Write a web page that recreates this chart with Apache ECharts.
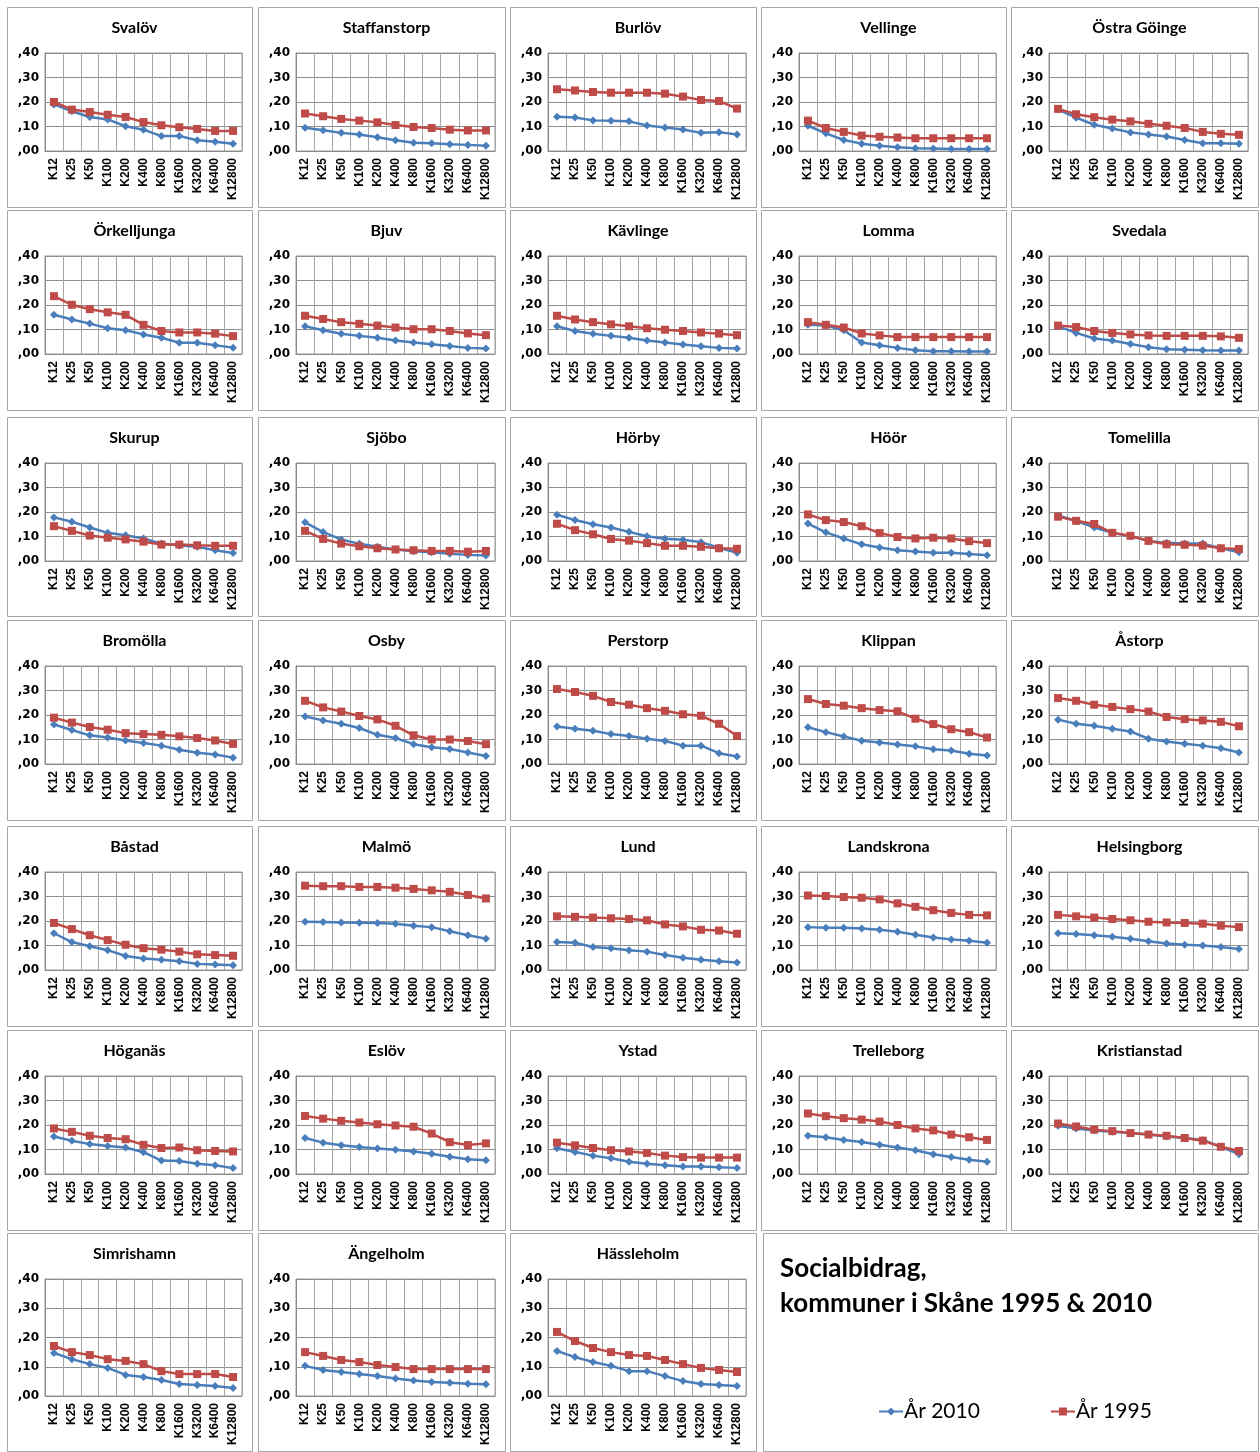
<!DOCTYPE html>
<html>
<head>
<meta charset="utf-8">
<script src="https://cdn.jsdelivr.net/npm/echarts@6/dist/echarts.min.js"></script>
<style>
html,body{margin:0;padding:0;background:#fff;}
#c{width:1260px;height:1452px;}
</style>
</head>
<body>
<div id="c"></div>
<script>
const categories = ['K12','K25','K50','K100','K200','K400','K800','K1600','K3200','K6400','K12800'];
const yTicks = [0, 0.1, 0.2, 0.3, 0.4];
const names = ['Svalöv','Staffanstorp','Burlöv','Vellinge','Östra Göinge',
  'Örkelljunga','Bjuv','Kävlinge','Lomma','Svedala',
  'Skurup','Sjöbo','Hörby','Höör','Tomelilla',
  'Bromölla','Osby','Perstorp','Klippan','Åstorp',
  'Båstad','Malmö','Lund','Landskrona','Helsingborg',
  'Höganäs','Eslöv','Ystad','Trelleborg','Kristianstad',
  'Simrishamn','Ängelholm','Hässleholm'];
const seriesNames = ['År 2010','År 1995'];
const v2010 = [
  [0.190,0.162,0.139,0.129,0.101,0.087,0.061,0.061,0.044,0.038,0.030],
  [0.095,0.085,0.074,0.067,0.056,0.044,0.034,0.032,0.028,0.025,0.021],
  [0.140,0.137,0.125,0.123,0.121,0.104,0.096,0.088,0.074,0.077,0.067],
  [0.103,0.072,0.045,0.030,0.021,0.015,0.011,0.010,0.008,0.008,0.008],
  [0.169,0.136,0.107,0.092,0.076,0.067,0.059,0.045,0.032,0.032,0.030],
  [0.160,0.141,0.124,0.105,0.097,0.080,0.066,0.046,0.046,0.036,0.026],
  [0.113,0.097,0.083,0.074,0.066,0.055,0.047,0.040,0.033,0.025,0.022],
  [0.113,0.094,0.083,0.074,0.066,0.055,0.047,0.039,0.032,0.025,0.022],
  [0.119,0.116,0.097,0.047,0.036,0.025,0.015,0.011,0.011,0.010,0.010],
  [0.113,0.086,0.063,0.055,0.041,0.028,0.019,0.017,0.015,0.014,0.014],
  [0.178,0.160,0.137,0.115,0.105,0.092,0.071,0.063,0.058,0.044,0.033],
  [0.158,0.118,0.088,0.070,0.058,0.047,0.040,0.036,0.030,0.025,0.022],
  [0.189,0.167,0.150,0.137,0.119,0.101,0.091,0.087,0.077,0.054,0.034],
  [0.153,0.117,0.092,0.068,0.055,0.044,0.039,0.034,0.034,0.029,0.023],
  [0.186,0.163,0.137,0.115,0.101,0.082,0.074,0.071,0.071,0.052,0.036],
  [0.161,0.139,0.117,0.108,0.096,0.086,0.075,0.058,0.046,0.039,0.026],
  [0.194,0.178,0.164,0.147,0.119,0.106,0.081,0.068,0.061,0.047,0.033],
  [0.153,0.144,0.136,0.122,0.114,0.103,0.094,0.075,0.075,0.044,0.031],
  [0.150,0.130,0.112,0.095,0.088,0.080,0.072,0.060,0.055,0.042,0.035],
  [0.181,0.164,0.156,0.144,0.133,0.103,0.092,0.083,0.075,0.064,0.047],
  [0.150,0.114,0.097,0.081,0.057,0.047,0.042,0.036,0.025,0.022,0.019],
  [0.197,0.196,0.194,0.193,0.192,0.189,0.181,0.175,0.158,0.142,0.128],
  [0.114,0.111,0.094,0.089,0.081,0.075,0.061,0.050,0.042,0.036,0.031],
  [0.175,0.172,0.172,0.169,0.164,0.156,0.144,0.133,0.125,0.119,0.111],
  [0.150,0.147,0.142,0.136,0.128,0.117,0.108,0.103,0.100,0.094,0.086],
  [0.153,0.136,0.122,0.114,0.108,0.089,0.055,0.053,0.042,0.036,0.024],
  [0.147,0.128,0.117,0.110,0.104,0.099,0.092,0.083,0.070,0.060,0.056],
  [0.105,0.090,0.075,0.064,0.050,0.042,0.036,0.031,0.031,0.028,0.025],
  [0.156,0.150,0.139,0.131,0.119,0.108,0.097,0.081,0.069,0.058,0.050],
  [0.197,0.186,0.178,0.172,0.167,0.161,0.153,0.147,0.139,0.111,0.081],
  [0.147,0.126,0.109,0.096,0.072,0.065,0.055,0.041,0.038,0.034,0.027],
  [0.103,0.089,0.082,0.075,0.068,0.060,0.053,0.048,0.045,0.042,0.040],
  [0.154,0.133,0.116,0.103,0.085,0.085,0.068,0.051,0.041,0.038,0.034]
];
const v1995 = [
  [0.200,0.169,0.159,0.148,0.139,0.118,0.105,0.097,0.090,0.082,0.082],
  [0.153,0.142,0.131,0.124,0.117,0.106,0.098,0.094,0.087,0.084,0.084],
  [0.252,0.247,0.241,0.238,0.238,0.238,0.234,0.222,0.208,0.204,0.173],
  [0.124,0.094,0.078,0.063,0.058,0.055,0.052,0.052,0.052,0.052,0.052],
  [0.172,0.150,0.138,0.128,0.121,0.111,0.103,0.094,0.078,0.070,0.066],
  [0.236,0.201,0.183,0.170,0.160,0.119,0.094,0.088,0.088,0.083,0.073],
  [0.156,0.143,0.130,0.123,0.116,0.108,0.101,0.101,0.094,0.084,0.077],
  [0.156,0.141,0.130,0.121,0.113,0.105,0.099,0.094,0.088,0.083,0.077],
  [0.130,0.119,0.108,0.084,0.076,0.069,0.069,0.069,0.069,0.069,0.069],
  [0.116,0.110,0.094,0.086,0.080,0.076,0.074,0.074,0.074,0.072,0.066],
  [0.142,0.123,0.104,0.095,0.088,0.079,0.067,0.067,0.064,0.062,0.062],
  [0.123,0.090,0.071,0.060,0.052,0.047,0.044,0.041,0.041,0.038,0.041],
  [0.152,0.126,0.109,0.090,0.083,0.073,0.062,0.062,0.058,0.052,0.050],
  [0.190,0.167,0.159,0.142,0.114,0.098,0.092,0.095,0.092,0.081,0.073],
  [0.181,0.164,0.151,0.115,0.103,0.082,0.068,0.066,0.063,0.052,0.049],
  [0.189,0.169,0.151,0.140,0.126,0.122,0.119,0.113,0.106,0.096,0.082],
  [0.258,0.231,0.214,0.196,0.182,0.156,0.117,0.100,0.100,0.094,0.081],
  [0.306,0.294,0.278,0.253,0.242,0.228,0.217,0.203,0.197,0.164,0.114],
  [0.265,0.245,0.238,0.228,0.220,0.215,0.185,0.163,0.142,0.130,0.108],
  [0.269,0.258,0.242,0.233,0.224,0.214,0.192,0.183,0.178,0.172,0.154],
  [0.192,0.167,0.142,0.122,0.103,0.089,0.083,0.075,0.064,0.061,0.058],
  [0.344,0.342,0.342,0.339,0.339,0.336,0.331,0.325,0.319,0.306,0.292],
  [0.219,0.217,0.214,0.211,0.208,0.203,0.186,0.178,0.164,0.161,0.148],
  [0.304,0.302,0.298,0.295,0.288,0.272,0.258,0.244,0.233,0.225,0.223],
  [0.225,0.219,0.214,0.208,0.203,0.197,0.194,0.192,0.189,0.181,0.175],
  [0.186,0.172,0.156,0.147,0.142,0.119,0.106,0.108,0.097,0.094,0.092],
  [0.237,0.226,0.217,0.210,0.203,0.198,0.193,0.165,0.130,0.118,0.125],
  [0.128,0.117,0.106,0.097,0.092,0.086,0.075,0.069,0.067,0.067,0.067],
  [0.247,0.236,0.228,0.222,0.214,0.200,0.186,0.178,0.161,0.150,0.139],
  [0.206,0.194,0.181,0.175,0.167,0.161,0.156,0.147,0.136,0.111,0.094],
  [0.171,0.150,0.140,0.126,0.120,0.109,0.085,0.075,0.075,0.075,0.065],
  [0.150,0.137,0.123,0.116,0.106,0.099,0.092,0.092,0.092,0.092,0.092],
  [0.219,0.188,0.164,0.150,0.140,0.137,0.123,0.109,0.096,0.089,0.082]
];

// layout (pixels)
const cols = [[7,252],[258,505],[510,756],[761,1006],[1011,1258]];
const rows = [[7,207],[210,410],[417,616],[620,820],[826,1026],[1030,1230],[1233,1451]];

const chart = echarts.init(document.getElementById('c'), null, {renderer:'canvas'});
const grids = [], xAxes = [], yAxes = [], series = [], titles = [], graphics = [];
const blue = '#4a7ebb', red = '#be4b48';

names.forEach((name, i) => {
  const r = Math.floor(i / 5), c = i % 5;
  const [x0, x1] = cols[c], [y0, y1] = rows[r];
  const h = r === 6 ? 117 : 98;
  graphics.push({type:'rect', shape:{x:x0+0.5, y:y0+0.5, width:x1-x0, height:y1-y0},
    style:{fill:'none', stroke:'#a6a6a6', lineWidth:1}, silent:true, z:-1});
  titles.push({text:name, left:(x0+x1)/2, top:y0+8, textAlign:'center',
    textStyle:{fontFamily:'Lato', fontWeight:'bold', fontSize:16, color:'#000'}});
  grids.push({left:x0+38, top:y0+46, width:(x1-x0)-48, height:h, show:true,
    borderColor:'#9a9a9a', borderWidth:1, backgroundColor:'#fff'});
  xAxes.push({type:'category', gridIndex:i, data:categories, boundaryGap:true,
    axisLine:{show:true, lineStyle:{color:'#8a8a8a'}}, axisTick:{show:false},
    splitLine:{show:true, interval:0, lineStyle:{color:'#a6a6a6', width:1}},
    axisLabel:{interval:0, rotate:90, margin:7, fontFamily:'Liberation Sans', fontWeight:'bold', fontSize:12, color:'#000'}});
  yAxes.push({type:'value', gridIndex:i, min:yTicks[0], max:yTicks[yTicks.length-1], interval:0.1,
    axisLine:{show:true, lineStyle:{color:'#8a8a8a'}}, axisTick:{show:false},
    splitLine:{show:true, lineStyle:{color:'#8f8f8f', width:1}},
    axisLabel:{margin:6, fontFamily:'DejaVu Sans', fontWeight:'bold', fontSize:12, color:'#000',
      formatter: v => ',' + String(Math.round(v*100)).padStart(2,'0')}});
  series.push({name:seriesNames[0], type:'line', xAxisIndex:i, yAxisIndex:i, data:v2010[i],
    symbol:'diamond', symbolSize:8, itemStyle:{color:blue}, lineStyle:{color:blue, width:2.5}, animation:false, z:2});
  series.push({name:seriesNames[1], type:'line', xAxisIndex:i, yAxisIndex:i, data:v1995[i],
    symbol:'rect', symbolSize:8, itemStyle:{color:red}, lineStyle:{color:red, width:2.5}, animation:false, z:3});
});

// legend / title panel
graphics.push({type:'rect', shape:{x:763.5, y:1233.5, width:495, height:218},
  style:{fill:'none', stroke:'#a6a6a6', lineWidth:1}, silent:true, z:-1});
titles.push({text:'Socialbidrag,\nkommuner i Skåne 1995 & 2010', left:775, top:1246,
  textStyle:{fontFamily:'Lato', fontWeight:'bold', fontSize:26, lineHeight:35, color:'#000'}});

chart.setOption({
  animation:false,
  backgroundColor:'#fff',
  title:titles,
  grid:grids,
  xAxis:xAxes,
  yAxis:yAxes,
  series:series,
  graphic:graphics,
  legend:{data:seriesNames, left:873, top:1396, itemGap:70, itemWidth:24, itemHeight:10,
    textStyle:{fontFamily:'Lato', fontSize:21, color:'#000', padding:[0,0,0,-4]}}
});
</script>
</body>
</html>
